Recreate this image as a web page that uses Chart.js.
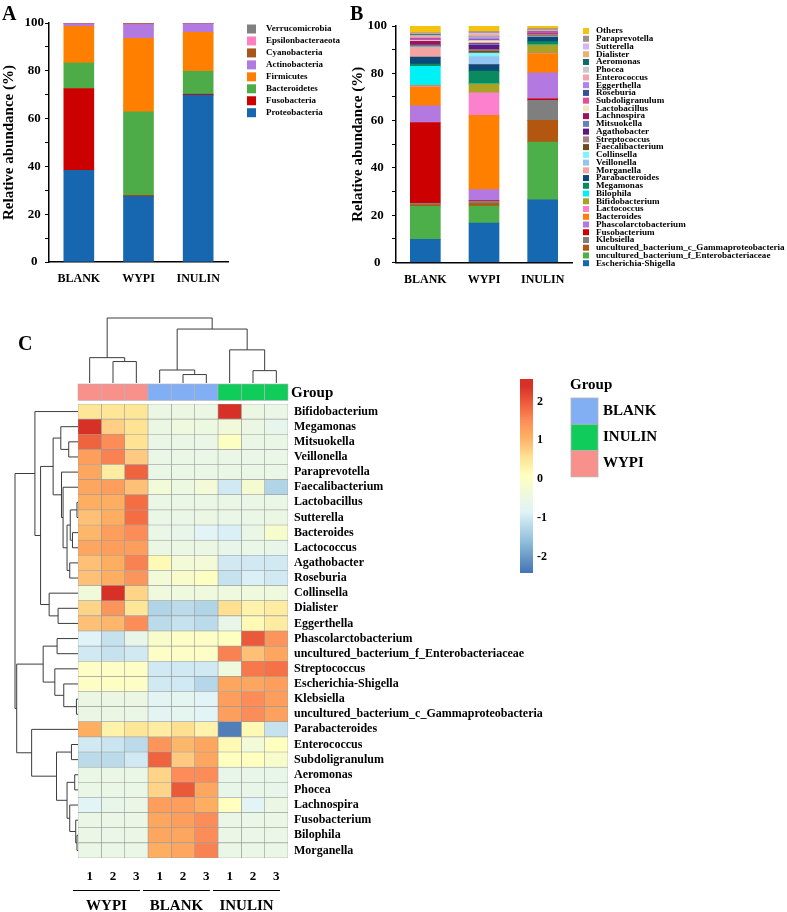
<!DOCTYPE html>
<html lang="en">
<head>
  <meta charset="UTF-8">
  <title>Microbiota composition</title>
  <style>
    body { margin: 0; background: #fff; font-family: "Liberation Serif", "Times New Roman", serif; }
    #page { position: relative; width: 787px; height: 912px; overflow: hidden; background: #fff; }
    canvas { position: absolute; }
    .panel { position: absolute; font-weight: bold; font-size: 20px; line-height: 20px; color: #000; }
  </style>
  <script src="https://cdn.jsdelivr.net/npm/chart.js"></script>
</head>
<body>
<div id="page">
  <canvas id="chartA" width="350" height="290" style="left:0;top:0"></canvas>
  <canvas id="chartB" width="438" height="290" style="left:349px;top:0"></canvas>
  <canvas id="chartC" width="787" height="612" style="left:0;top:300px"></canvas>
  <div class="panel" style="left:2px;top:3px">A</div>
  <div class="panel" style="left:350px;top:3px">B</div>
  <div class="panel" style="left:18px;top:333px">C</div>
</div>
<script>
  // ---- panel A: phylum level ----
  const groups = ['BLANK', 'WYPI', 'INULIN'];
  const phylaNames = ['Proteobacteria', 'Fusobacteria', 'Bacteroidetes', 'Firmicutes',
    'Actinobacteria', 'Cyanobacteria', 'Epsilonbacteraeota', 'Verrucomicrobia'];
  const phylaColors = ['#1766b0', '#cc0000', '#4dac47', '#ff8000',
    '#b279e0', '#a8561c', '#ff80c0', '#808080'];
  const phylaBLANK  = [38.4, 34.2, 10.7, 15.3, 1.0, 0.1, 0.1, 0.2];
  const phylaWYPI   = [27.4, 0.3, 35.1, 30.8, 5.8, 0.3, 0.0, 0.3];
  const phylaINULIN = [69.8, 0.4, 9.6, 16.3, 3.6, 0.1, 0.0, 0.2];

  // ---- panel B: genus level ----
  const genusNames = ['Escherichia-Shigella', 'uncultured_bacterium_f_Enterobacteriaceae',
    'uncultured_bacterium_c_Gammaproteobacteria', 'Klebsiella', 'Fusobacterium',
    'Phascolarctobacterium', 'Bacteroides', 'Lactococcus', 'Bifidobacterium', 'Bilophila',
    'Megamonas', 'Parabacteroides', 'Morganella', 'Veillonella', 'Collinsella',
    'Faecalibacterium', 'Streptococcus', 'Agathobacter', 'Mitsuokella', 'Lachnospira',
    'Lactobacillus', 'Subdoligranulum', 'Roseburia', 'Eggerthella', 'Enterococcus',
    'Phocea', 'Aeromonas', 'Dialister', 'Sutterella', 'Paraprevotella', 'Others'];
  const genusColors = ['#1668b0', '#4daf4a', '#b3560f', '#7f7f7f', '#cc0000',
    '#b379e0', '#ff8000', '#fb81cf', '#a9a224', '#00f0f8',
    '#0a8a5e', '#0b4a78', '#f4a3a0', '#92c5f0', '#7ff2ff',
    '#6b4c1c', '#a88080', '#5c1685', '#6b80bb', '#a0125c',
    '#f2e8c2', '#e84a9b', '#3b4f97', '#b380ef', '#f4a3ab',
    '#c9c9c9', '#106a6a', '#eeb070', '#d8b5f2', '#9e8f8c', '#f4c20f'];
  const genusBLANK  = [9.8, 14.0, 0.6, 0.6, 34.2, 7.0, 8.0, 0.4, 0.3, 8.0, 1.0, 3.0, 4.0, 0.2, 0.1,
    0.2, 0.3, 0.2, 0.1, 1.5, 0.3, 0.6, 0.2, 0.3, 0.8, 0.3, 0.4, 0.1, 0.2, 0.4, 2.9];
  const genusWYPI   = [16.7, 7.2, 1.0, 1.0, 0.3, 4.6, 31.4, 9.5, 3.7, 0.2, 5.3, 2.8, 0.1, 3.3, 1.4,
    0.9, 0.6, 1.8, 0.7, 0.3, 1.0, 0.1, 0.3, 0.8, 0.1, 0.4, 0.1, 0.6, 0.8, 0.6, 2.4];
  const genusINULIN = [26.5, 24.4, 9.2, 8.5, 0.6, 11.0, 8.0, 0.2, 3.5, 0.1, 1.4, 1.9, 0.1, 0.1, 0.1,
    0.1, 0.8, 0.1, 0.1, 0.1, 0.1, 0.5, 0.1, 0.1, 0.5, 0.1, 0.1, 0.1, 0.1, 0.4, 1.1];

  // ---- panel C: heatmap (z-scores), rows in clustered order ----
  const rowNames = ['Bifidobacterium', 'Megamonas', 'Mitsuokella', 'Veillonella', 'Paraprevotella',
    'Faecalibacterium', 'Lactobacillus', 'Sutterella', 'Bacteroides', 'Lactococcus',
    'Agathobacter', 'Roseburia', 'Collinsella', 'Dialister', 'Eggerthella',
    'Phascolarctobacterium', 'uncultured_bacterium_f_Enterobacteriaceae', 'Streptococcus',
    'Escherichia-Shigella', 'Klebsiella', 'uncultured_bacterium_c_Gammaproteobacteria',
    'Parabacteroides', 'Enterococcus', 'Subdoligranulum', 'Aeromonas', 'Phocea',
    'Lachnospira', 'Fusobacterium', 'Bilophila', 'Morganella'];
  const colGroups = ['WYPI', 'WYPI', 'WYPI', 'BLANK', 'BLANK', 'BLANK', 'INULIN', 'INULIN', 'INULIN'];
  const colReplicates = ['1', '2', '3', '1', '2', '3', '1', '2', '3'];
  const heatValues = [
    [ 0.5,  0.5,  0.5, -0.5, -0.5, -0.5,  2.5, -0.5, -0.55],
    [ 2.4,  0.75, 0.55,-0.5, -0.4, -0.45,-0.35,-0.5, -0.65],
    [ 1.9,  1.5,  0.55,-0.55,-0.55,-0.55, 0.05,-0.55,-0.55],
    [ 1.3,  1.6,  0.8, -0.55,-0.55,-0.55,-0.55,-0.55,-0.55],
    [ 1.2,  0.4,  1.9, -0.55,-0.55,-0.55,-0.55,-0.55,-0.55],
    [ 1.2,  1.3,  0.9, -0.3, -0.45,-0.3, -1.0, -0.2, -1.3 ],
    [ 1.1,  1.1,  1.8, -0.55,-0.55,-0.55,-0.55,-0.55,-0.55],
    [ 0.9,  1.1,  1.8, -0.55,-0.55,-0.5, -0.55,-0.55,-0.5 ],
    [ 1.0,  1.3,  1.5, -0.55,-0.6, -0.8, -0.9, -0.55,-0.15],
    [ 1.2,  1.3,  1.3, -0.5, -0.5, -0.5, -0.6, -0.55,-0.6 ],
    [ 0.9,  1.1,  1.6,  0.2, -0.3, -0.3, -1.0, -1.0, -1.0 ],
    [ 0.9,  1.1,  1.4, -0.3, -0.1,  0.05,-1.1, -0.9, -1.0 ],
    [-0.35, 2.4,  0.7, -0.4, -0.4, -0.4, -0.4, -0.4, -0.4 ],
    [ 0.7,  1.4,  0.5, -1.3, -1.2, -1.3,  0.6,  0.3,  0.4 ],
    [ 0.9,  1.0,  1.5, -1.2, -1.1, -1.2, -0.6,  0.2,  0.4 ],
    [-0.85,-1.1, -0.6, -0.1,  0.0,  0.0,  0.1,  2.0,  1.4 ],
    [-1.0, -1.1, -1.0,  0.0,  0.0,  0.0,  1.6,  0.9,  1.2 ],
    [ 0.0,  0.0,  0.0, -1.0, -1.0, -1.0, -0.4,  1.7,  1.75],
    [ 0.0,  0.05, 0.0, -1.0, -1.0, -1.25, 1.2,  1.2,  1.3 ],
    [-0.5, -0.5, -0.5, -0.75,-0.7, -0.8,  1.3,  1.5,  1.3 ],
    [-0.5, -0.5, -0.55,-0.75,-0.7, -0.8,  1.3,  1.5,  1.25],
    [ 1.1,  0.3,  0.5,  0.4,  0.6,  0.3, -2.3,  0.2, -1.1 ],
    [-1.0, -1.05,-1.2,  1.4,  1.0,  1.2,  0.2, -0.3,  0.1 ],
    [-1.2, -1.2, -1.0,  1.9,  0.8,  1.2,  0.1,  0.1, -0.1 ],
    [-0.55,-0.55,-0.55, 0.7,  1.5,  1.5, -0.6, -0.6, -0.6 ],
    [-0.55,-0.55,-0.55, 0.7,  2.0,  1.2, -0.6, -0.6, -0.6 ],
    [-0.8, -0.6, -0.55, 1.3,  1.3,  1.1,  0.1, -0.8, -0.5 ],
    [-0.55,-0.55,-0.55, 1.2,  1.3,  1.5, -0.55,-0.55,-0.55],
    [-0.55,-0.55,-0.55, 1.2,  1.2,  1.5, -0.55,-0.55,-0.55],
    [-0.55,-0.55,-0.55, 1.1,  1.2,  1.6, -0.55,-0.55,-0.55]
  ];
  // linkage: [a, b, height]; indices >= n refer to earlier merges
  const rowLinkage = [
    [2, 3, 1.47], [1, 30, 2.73], [6, 7, 0.16], [8, 9, 0.88], [32, 33, 1.23],
    [10, 11, 1.31], [34, 35, 1.74], [5, 36, 2.37], [4, 37, 2.62], [31, 38, 3.95],
    [13, 14, 3.16], [12, 40, 4.58], [39, 41, 5.94], [0, 42, 6.84], [15, 16, 3.32],
    [19, 20, 0.25], [18, 45, 2.26], [17, 46, 3.68], [44, 47, 5.53], [22, 23, 1.04],
    [24, 25, 0.52], [28, 29, 0.16], [27, 51, 0.36], [26, 52, 1.31], [50, 53, 1.74],
    [49, 54, 3.41], [21, 55, 7.36], [48, 56, 9.73], [43, 57, 10.0]
  ];
  const colLinkage = [
    [1, 2, 0.33], [0, 9, 0.39], [4, 5, 0.13], [3, 11, 0.20],
    [7, 8, 0.19], [6, 13, 0.51], [12, 14, 0.83], [10, 15, 1.0]
  ];
  const groupLegend = ['BLANK', 'INULIN', 'WYPI'];
  const groupColors = { WYPI: '#f8908c', BLANK: '#82aef4', INULIN: '#10cc5a' };
  const colorbarTicks = [2, 1, 0, -1, -2];
  const colorRange = [-2.42, 2.58];
  const colorStopValues = [-2.4, -1.6, -0.85, 0.1, 0.6, 0.8, 1.1, 1.5, 1.8, 2.4];
  const colorStopColors = ['#4575b4', '#91bfdb', '#e0f3f8', '#ffffbf', '#fee090',
    '#fec980', '#fdae61', '#fc8d59', '#f46d43', '#d73027'];

  Chart.defaults.font.family = '"Liberation Serif", "Times New Roman", serif';
  Chart.defaults.font.weight = 'bold';
  Chart.defaults.color = '#000';
  Chart.defaults.animation = false;

  const FONT = '"Liberation Serif", "Times New Roman", serif';

  function sideLegend(x0, y0, step, box, textX, size) {
    return {
      id: 'sideLegend',
      afterDraw(chart) {
        const ctx = chart.ctx;
        ctx.save();
        ctx.font = `bold ${size}px ${FONT}`;
        ctx.textBaseline = 'middle';
        chart.data.datasets.slice().reverse().forEach((ds, k) => {
          const y = y0 + k * step;
          ctx.fillStyle = ds.backgroundColor;
          ctx.fillRect(x0, y - box / 2, box, box);
          ctx.fillStyle = '#000';
          ctx.fillText(ds.label, textX, y);
        });
        ctx.restore();
      }
    };
  }

  function stackedChart(id, names, colors, series, o) {
    new Chart(document.getElementById(id), {
      type: 'bar',
      data: {
        labels: groups,
        datasets: names.map((n, i) => ({
          label: n,
          data: series.map(s => s[i]),
          backgroundColor: colors[i],
          borderWidth: 0,
          barThickness: 30
        }))
      },
      options: {
        responsive: false,
        layout: { padding: { top: o.top, right: o.right, left: 0, bottom: 0 } },
        plugins: { legend: { display: false }, tooltip: { enabled: false } },
        scales: {
          x: {
            stacked: true,
            grid: { display: false, drawTicks: false },
            border: { color: '#000', width: 1.5 },
            ticks: { font: { size: 12, weight: 'bold' }, padding: 10 },
            afterFit: s => { s.height = o.xh; }
          },
          y: {
            stacked: true, min: 0, max: 100,
            grid: { drawOnChartArea: false, color: '#000', tickLength: 4 },
            border: { color: '#000', width: 1.5 },
            ticks: { stepSize: 10, font: { size: 13, weight: 'bold' }, padding: o.tp, crossAlign: 'center',
              callback: v => (v % 20 === 0 ? v : '') },
            title: { display: true, text: 'Relative abundance (%)', font: { size: 15, weight: 'bold' }, padding: 0 },
            afterFit: s => { s.width = o.yw; }
          }
        }
      },
      plugins: [o.legend]
    });
  }

  stackedChart('chartA', phylaNames, phylaColors, [phylaBLANK, phylaWYPI, phylaINULIN],
    { top: 23, right: 122, yw: 49, xh: 28, tp: 1, legend: sideLegend(247, 29, 11.96, 9, 266, 9) });
  stackedChart('chartB', genusNames, genusColors, [genusBLANK, genusWYPI, genusINULIN],
    { top: 26, right: 215, yw: 47, xh: 27.5, tp: 5, legend: sideLegend(234, 31, 7.74, 6, 247, 9.1) });

  // ---- heatmap helpers ----
  function hexRgb(h) { return [1, 3, 5].map(i => parseInt(h.slice(i, i + 2), 16)); }
  function heatColor(v) {
    const vs = colorStopValues;
    let i = 0;
    while (i < vs.length - 2 && v > vs[i + 1]) i++;
    const f = Math.min(1, Math.max(0, (v - vs[i]) / (vs[i + 1] - vs[i])));
    const a = hexRgb(colorStopColors[i]), b = hexRgb(colorStopColors[i + 1]);
    const c = a.map((x, k) => Math.round(x + (b[k] - x) * f));
    return `rgb(${c[0]},${c[1]},${c[2]})`;
  }

  function drawDendro(ctx, linkage, n, leafPos, toPix, vertical) {
    const pos = [], hgt = [];
    for (let i = 0; i < n; i++) { pos[i] = leafPos(i); hgt[i] = 0; }
    linkage.forEach(([a, b, h], k) => {
      const id = n + k;
      pos[id] = (pos[a] + pos[b]) / 2;
      hgt[id] = h;
      const pts = [[pos[a], hgt[a]], [pos[a], h], [pos[b], h], [pos[b], hgt[b]]];
      ctx.beginPath();
      pts.forEach(([p, hh], j) => {
        const xy = vertical ? [p, toPix(hh)] : [toPix(hh), p];
        if (j === 0) ctx.moveTo(xy[0], xy[1]); else ctx.lineTo(xy[0], xy[1]);
      });
      ctx.stroke();
    });
  }

  const heatDecor = {
    id: 'heatDecor',
    afterDraw(chart) {
      const { ctx, chartArea: area, scales: { x, y } } = chart;
      ctx.save();
      // dendrograms
      ctx.strokeStyle = '#3c3c3c';
      ctx.lineWidth = 1;
      const colMax = Math.max(...colLinkage.map(l => l[2]));
      drawDendro(ctx, colLinkage, colGroups.length, j => x.getPixelForValue(j + 0.5),
        h => area.top - 21 - h / colMax * 65, true);
      const rowMax = Math.max(...rowLinkage.map(l => l[2]));
      drawDendro(ctx, rowLinkage, rowNames.length, i => y.getPixelForValue(i),
        h => area.left - h / rowMax * 63, false);

      // group annotation bar
      colGroups.forEach((g, j) => {
        const x0 = x.getPixelForValue(j), x1 = x.getPixelForValue(j + 1);
        ctx.fillStyle = groupColors[g];
        ctx.fillRect(x0, area.top - 20, x1 - x0, 16.4);
        ctx.strokeStyle = '#b4b4b4';
        ctx.lineWidth = 0.6;
        ctx.strokeRect(x0, area.top - 20, x1 - x0, 16.4);
      });
      ctx.fillStyle = '#000';
      ctx.textBaseline = 'middle';
      ctx.textAlign = 'left';
      ctx.font = `bold 15px ${FONT}`;
      ctx.fillText('Group', area.right + 3, area.top - 11);

      // colour key
      const cbX = 520, cbTop = 79, cbBot = 273, cbW = 13;
      const vToY = v => cbTop + (colorRange[1] - v) / (colorRange[1] - colorRange[0]) * (cbBot - cbTop);
      for (let yy = cbTop; yy < cbBot; yy++) {
        const v = colorRange[1] - (yy + 0.5 - cbTop) / (cbBot - cbTop) * (colorRange[1] - colorRange[0]);
        ctx.fillStyle = heatColor(v);
        ctx.fillRect(cbX, yy, cbW, 1);
      }
      ctx.fillStyle = '#000';
      ctx.font = `bold 12px ${FONT}`;
      colorbarTicks.forEach(t => ctx.fillText(String(t), cbX + 17, vToY(t)));

      // group legend
      ctx.font = `bold 15px ${FONT}`;
      ctx.fillText('Group', 570, 85);
      groupLegend.forEach((g, k) => {
        const by = 98 + k * 26.3;
        ctx.fillStyle = groupColors[g];
        ctx.fillRect(571, by, 27, 26.3);
        ctx.strokeStyle = '#b4b4b4';
        ctx.lineWidth = 0.8;
        ctx.strokeRect(571, by, 27, 26.3);
        ctx.fillStyle = '#000';
        ctx.fillText(g, 603, by + 13);
      });

      // group names under replicate numbers
      const names = [...new Set(colGroups)];
      ctx.strokeStyle = '#000';
      ctx.lineWidth = 1;
      ctx.textAlign = 'center';
      names.forEach(g => {
        const first = colGroups.indexOf(g), last = colGroups.lastIndexOf(g);
        const x0 = x.getPixelForValue(first) - 5, x1 = x.getPixelForValue(last + 1) - 8;
        ctx.beginPath();
        ctx.moveTo(x0, 590.5);
        ctx.lineTo(x1, 590.5);
        ctx.stroke();
        ctx.fillText(g, (x0 + x1) / 2, 606);
      });
      ctx.restore();
    }
  };

  new Chart(document.getElementById('chartC'), {
    type: 'bar',
    data: {
      labels: rowNames,
      datasets: colGroups.map((g, j) => ({
        label: g + ' ' + colReplicates[j],
        data: rowNames.map(() => [j, j + 1]),
        backgroundColor: heatValues.map(r => heatColor(r[j])),
        borderColor: '#9a9a9a',
        borderWidth: 0.6,
        borderSkipped: false,
        grouped: false,
        barPercentage: 1,
        categoryPercentage: 1
      }))
    },
    options: {
      indexAxis: 'y',
      responsive: false,
      layout: { padding: { left: 78, top: 104, right: 0, bottom: 0 } },
      plugins: { legend: { display: false }, tooltip: { enabled: false } },
      scales: {
        x: {
          type: 'linear', min: 0, max: 9, position: 'bottom',
          grid: { display: false, drawTicks: false },
          border: { display: false },
          afterBuildTicks: s => { s.ticks = colReplicates.map((_, j) => ({ value: j + 0.5 })); },
          ticks: { font: { size: 13, weight: 'bold' }, padding: 11,
            callback: v => colReplicates[Math.floor(v)] },
          afterFit: s => { s.height = 54; }
        },
        y: {
          type: 'category', position: 'right',
          grid: { display: false, drawTicks: false },
          border: { display: false },
          ticks: { font: { size: 12, weight: 'bold' }, padding: 6, autoSkip: false },
          afterFit: s => { s.width = 499; }
        }
      }
    },
    plugins: [heatDecor]
  });
</script>
</body>
</html>
